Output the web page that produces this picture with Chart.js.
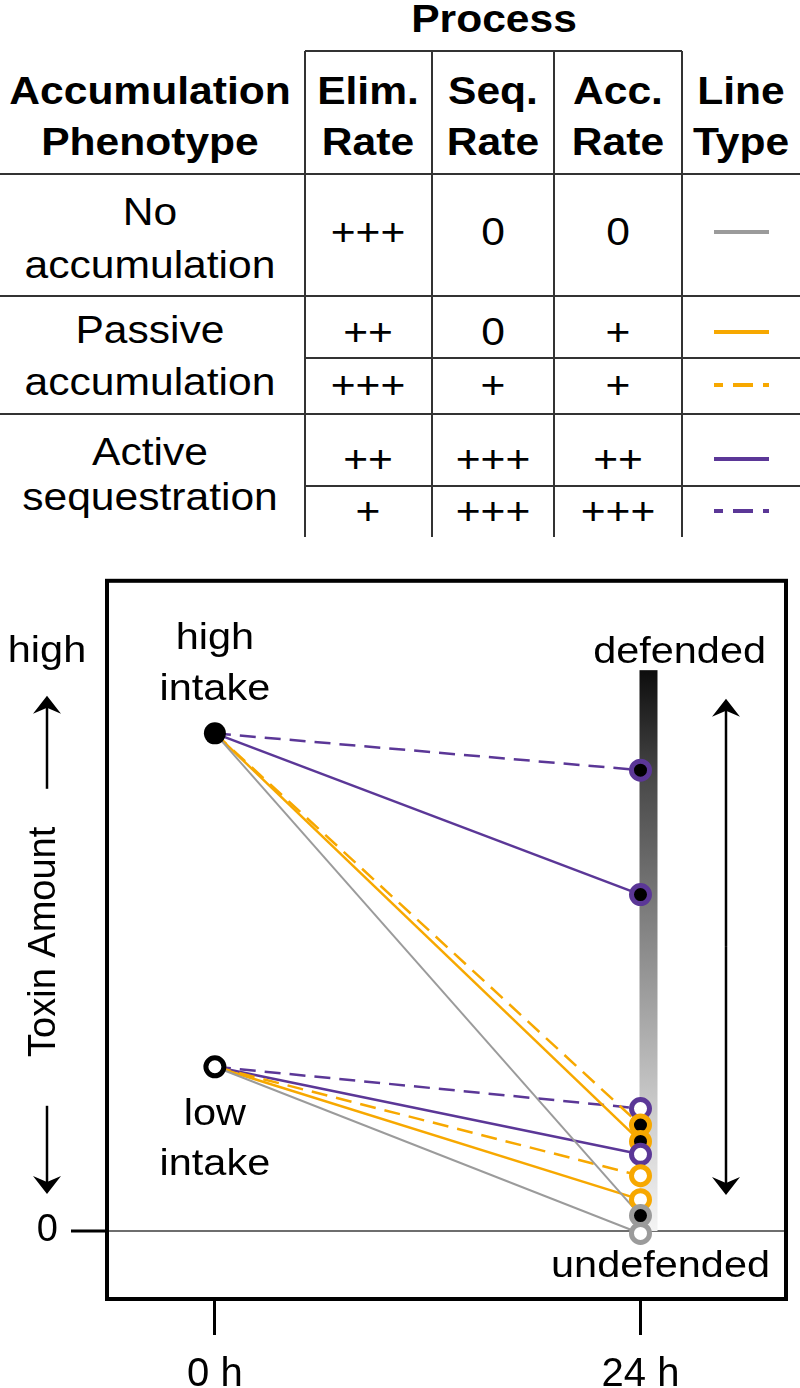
<!DOCTYPE html>
<html>
<head>
<meta charset="utf-8">
<script src="https://cdn.jsdelivr.net/npm/chart.js@4"></script>
<style>
  html, body { margin: 0; padding: 0; background: #fff; }
  body { width: 800px; height: 1388px; position: relative; overflow: hidden; font-family: "Liberation Sans", Arial, sans-serif; color: #000; }
  #table { position: absolute; left: 0; top: 0; width: 800px; height: 545px; }
  #table svg { position: absolute; left: 0; top: 0; }
  .t { position: absolute; white-space: nowrap; line-height: 1; font-size: 38px; transform: translate(-50%, -84.65%) scaleX(1.12); }
  .b { font-weight: bold; }
  #chartWrap { position: absolute; left: 0; top: 545px; width: 800px; height: 843px; }
</style>
</head>
<body>
<div id="table"></div>
<div id="chartWrap"><canvas id="toxinChart"></canvas></div>
<script>
// Data
const timePoints = [0, 24];
const timeLabels = ['0 h', '24 h'];
const intakeLabels = ['high intake', 'low intake'];
const intakeStart = [100, 33];
const phenotypes = ['No accumulation', 'Passive accumulation', 'Passive accumulation', 'Active sequestration', 'Active sequestration'];
const highEnd = [3.1, 18.0, 21.3, 67.6, 92.6];
const lowEnd = [-0.5, 6.3, 11.1, 15.4, 24.6];
const elimRate = ['+++', '++', '+++', '++', '+'];
const seqRate = ['0', '0', '+', '+++', '+++'];
const accRate = ['0', '+', '+', '++', '+++'];
const phenoLines = [['No', 'accumulation'], ['Passive', 'accumulation'], ['Active', 'sequestration']];
const headerLines = [['Accumulation', 'Phenotype'], ['Elim.', 'Rate'], ['Seq.', 'Rate'], ['Acc.', 'Rate'], ['Line', 'Type']];

// Styles
const GRAY = '#9b9b9b', ORANGE = '#f7a800', PURPLE = '#5b3797';
const lineColors = [GRAY, ORANGE, ORANGE, PURPLE, PURPLE];
const lineDashed = [false, false, true, false, true];
const STRETCH = 1.12;

// Table layout
const colCenters = [150, 368, 493, 618, 741];
const colEdges = [305, 432, 554, 682];
const rowCenters = [232, 332, 385, 459, 511];
const phenoBaselines = [[225, 278], [343, 395], [465, 510]];
const headerBaselines = [104, 155];

function addText(parent, str, x, baseline, bold) {
    const d = document.createElement('div');
    d.className = 't' + (bold ? ' b' : '');
    d.style.left = x + 'px';
    d.style.top = baseline + 'px';
    d.textContent = str;
    parent.appendChild(d);
}

function buildTable() {
    const tbl = document.getElementById('table');
    const ns = 'http://www.w3.org/2000/svg';
    const svg = document.createElementNS(ns, 'svg');
    svg.setAttribute('width', 800);
    svg.setAttribute('height', 545);
    function line(x1, y1, x2, y2, color, width, dash) {
        const l = document.createElementNS(ns, 'line');
        l.setAttribute('x1', x1); l.setAttribute('y1', y1);
        l.setAttribute('x2', x2); l.setAttribute('y2', y2);
        l.setAttribute('stroke', color);
        l.setAttribute('stroke-width', width);
        if (dash) { l.setAttribute('stroke-dasharray', '20 10'); l.setAttribute('stroke-dashoffset', '11'); }
        svg.appendChild(l);
    }
    // grid
    line(colEdges[0], 51, colEdges[3], 51, '#333', 2);
    colEdges.forEach(x => line(x, 51, x, 537, '#333', 2));
    [174, 296, 414].forEach(y => line(0, y, 800, y, '#333', 2));
    [358, 486].forEach(y => line(colEdges[0], y, 800, y, '#333', 2));
    // line type samples
    rowCenters.forEach((y, i) => line(714, y, 769, y, lineColors[i], 4, lineDashed[i]));
    tbl.appendChild(svg);

    addText(tbl, 'Process', (colEdges[0] + colEdges[3]) / 2, 32, true);
    headerLines.forEach((pair, c) => {
        pair.forEach((s, k) => addText(tbl, s, colCenters[c], headerBaselines[k], true));
    });
    phenoLines.forEach((pair, r) => {
        pair.forEach((s, k) => addText(tbl, s, colCenters[0], phenoBaselines[r][k], false));
    });
    rowCenters.forEach((y, i) => {
        addText(tbl, elimRate[i], colCenters[1], y + 13, false);
        addText(tbl, seqRate[i], colCenters[2], y + 13, false);
        addText(tbl, accRate[i], colCenters[3], y + 13, false);
    });
}
buildTable();

// Chart datasets
const datasets = [];
for (let i = 0; i < highEnd.length; i++) {
    [highEnd, lowEnd].forEach((ends, g) => {
        datasets.push({
            label: phenotypes[i] + ' (' + intakeLabels[g] + ')',
            data: [{ x: timePoints[0], y: intakeStart[g] }, { x: timePoints[1], y: ends[i] }],
            showLine: true,
            borderColor: lineColors[i],
            borderWidth: i === 0 ? 2 : 2.5,
            borderDash: lineDashed[i] ? [16, 9] : [],
            pointRadius: 0,
            order: 3
        });
    });
}
const endPoints = [];
highEnd.forEach((v, i) => endPoints.push({ y: v, c: lineColors[i], fill: '#000' }));
lowEnd.forEach((v, i) => endPoints.push({ y: v, c: lineColors[i], fill: '#fff' }));
endPoints.sort((a, b) => b.y - a.y);
datasets.push({
    label: '24 h amount',
    data: endPoints.map(e => ({ x: timePoints[1], y: e.y })),
    pointRadius: 9,
    pointBorderWidth: 5,
    pointBorderColor: endPoints.map(e => e.c),
    pointBackgroundColor: endPoints.map(e => e.fill),
    order: 2
});
datasets.push({
    label: 'intake',
    data: intakeStart.map(v => ({ x: timePoints[0], y: v })),
    pointRadius: [11, 9],
    pointBorderWidth: [0, 5],
    pointBorderColor: '#000',
    pointBackgroundColor: ['#000', '#fff'],
    order: 1
});

const FONT = '37px "Liberation Sans", Arial, sans-serif';

function stretchText(ctx, str, x, y, align) {
    ctx.save();
    ctx.translate(x, y);
    ctx.scale(STRETCH, 1);
    ctx.textAlign = align || 'center';
    ctx.textBaseline = 'alphabetic';
    ctx.fillText(str, 0, 0);
    ctx.restore();
}

function arrow(ctx, x, tail, tip, width) {
    const dir = tip < tail ? -1 : 1;
    ctx.beginPath();
    ctx.moveTo(x, tail);
    ctx.lineTo(x, tip - dir * 10);
    ctx.lineWidth = width;
    ctx.strokeStyle = '#000';
    ctx.stroke();
    ctx.beginPath();
    ctx.moveTo(x, tip);
    ctx.lineTo(x - 14, tip - dir * 18);
    ctx.lineTo(x, tip - dir * 12);
    ctx.lineTo(x + 14, tip - dir * 18);
    ctx.closePath();
    ctx.fillStyle = '#000';
    ctx.fill();
}

const decorPlugin = {
    id: 'decor',
    beforeDatasetsDraw(chart) {
        const ctx = chart.ctx, xs = chart.scales.x, ys = chart.scales.y;
        const x0 = xs.getPixelForValue(timePoints[1]) - 1;
        const top = ys.getPixelForValue(112.7), bottom = ys.getPixelForValue(0);
        const g = ctx.createLinearGradient(0, top, 0, bottom);
        g.addColorStop(0, '#0d0d0d');
        g.addColorStop(0.2, '#4a4a4a');
        g.addColorStop(0.5, '#8c8c8c');
        g.addColorStop(0.8, '#cfcfcf');
        g.addColorStop(1, '#f4f4f4');
        ctx.save();
        ctx.fillStyle = g;
        ctx.fillRect(x0, top, 18, bottom - top);
        ctx.restore();
    },
    afterDatasetsDraw(chart) {
        const ctx = chart.ctx, a = chart.chartArea, xs = chart.scales.x, ys = chart.scales.y;
        ctx.save();
        ctx.lineWidth = 4;
        ctx.strokeStyle = '#000';
        ctx.strokeRect(a.left, a.top, a.right - a.left, a.bottom - a.top);

        ctx.fillStyle = '#000';
        ctx.font = FONT;
        const xStart = xs.getPixelForValue(timePoints[0]);
        const yHigh = ys.getPixelForValue(intakeStart[0]);
        const yLow = ys.getPixelForValue(intakeStart[1]);
        const yZero = ys.getPixelForValue(0);
        stretchText(ctx, 'high', xStart, yHigh - 84);
        stretchText(ctx, 'intake', xStart, yHigh - 33);
        stretchText(ctx, 'low', xStart, yLow + 58);
        stretchText(ctx, 'intake', xStart, yLow + 108);
        stretchText(ctx, 'defended', a.right - 20, a.top + 82, 'right');
        stretchText(ctx, 'undefended', a.right - 16, yZero + 46, 'right');

        // right double arrow
        const ax = a.right - 60;
        arrow(ctx, ax, (a.top + 118 + yZero - 36) / 2, a.top + 118, 2.5);
        arrow(ctx, ax, (a.top + 118 + yZero - 36) / 2, yZero - 36, 2.5);

        // left axis annotation
        stretchText(ctx, 'high', 47, a.top + 81);
        arrow(ctx, 47, a.top + 208, a.top + 115, 2.5);
        arrow(ctx, 47, a.top + 525, yZero - 37, 2.5);
        ctx.save();
        ctx.translate(45, a.top + 361);
        ctx.rotate(-Math.PI / 2);
        ctx.font = '38px "Liberation Sans", Arial, sans-serif';
        ctx.textAlign = 'center';
        ctx.textBaseline = 'middle';
        ctx.fillText('Toxin Amount', 0, 0);
        ctx.restore();
        ctx.restore();
    }
};

new Chart(document.getElementById('toxinChart'), {
    type: 'scatter',
    data: { datasets: datasets },
    options: {
        responsive: true,
        maintainAspectRatio: false,
        animation: false,
        events: [],
        layout: { padding: { top: 15, right: 7, left: 0, bottom: 0 } },
        plugins: { legend: { display: false }, tooltip: { enabled: false } },
        scales: {
            x: {
                type: 'linear',
                min: -6.084,
                max: 32.205,
                afterBuildTicks: s => { s.ticks = timePoints.map(v => ({ value: v })); },
                afterFit: s => { s.height = 89; },
                ticks: {
                    callback: v => timeLabels[timePoints.indexOf(v)],
                    font: { size: 40, family: '"Liberation Sans", Arial, sans-serif' },
                    color: '#000',
                    padding: 16,
                    maxRotation: 0,
                    autoSkip: false
                },
                grid: { drawOnChartArea: false, tickLength: 36, tickWidth: 3, tickColor: '#000' },
                border: { display: false }
            },
            y: {
                type: 'linear',
                min: -13.67,
                max: 130.66,
                afterBuildTicks: s => { s.ticks = [{ value: 0 }]; },
                afterFit: s => { s.width = 107; },
                ticks: {
                    callback: () => '0',
                    font: { size: 38, family: '"Liberation Sans", Arial, sans-serif' },
                    color: '#000',
                    padding: 13
                },
                grid: { color: '#6e6e6e', lineWidth: 2, tickLength: 36, tickWidth: 3, tickColor: '#000' },
                border: { display: false }
            }
        }
    },
    plugins: [decorPlugin]
});
</script>
</body>
</html>
